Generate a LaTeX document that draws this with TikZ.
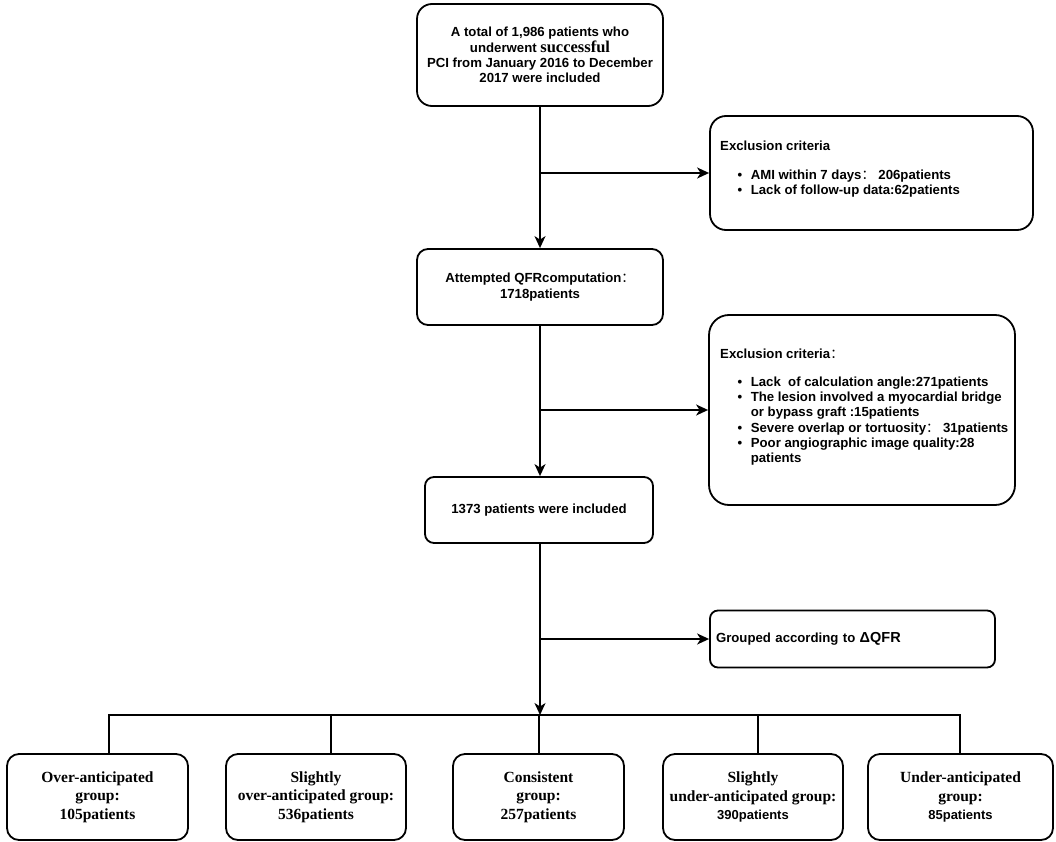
\documentclass[tikz,border=0pt]{standalone}
\usepackage{fontspec}
\setmainfont{Liberation Sans}
\newfontfamily\tnr{Liberation Serif}
\newfontfamily\cjkf{Noto Sans CJK SC}
\usetikzlibrary{arrows.meta}
\newcommand\fcol{{\cjkf\mdseries ：}}
\newcommand\sz{\fontsize{13.2}{15.3}\selectfont}
\newcommand\tsz{\fontsize{15.5}{18.5}\selectfont}
\newcommand\bul{\hspace{17.5pt}\textbullet}
\begin{document}
\begin{tikzpicture}[x=1pt,y=-1pt,
 box/.style={draw, line width=1.8pt, rounded corners=13pt, inner sep=0pt, align=center, font=\sz\bfseries},
 bbox/.style={box, minimum height=86pt, rounded corners=12pt, font=\tsz\bfseries\tnr},
 lbl/.style={anchor=base west, inner sep=0pt, font=\sz\bfseries},
 conn/.style={line width=1.8pt},
 arr/.style={conn, -{Stealth[length=12pt,width=11pt,inset=3.5pt]}},
]
\useasboundingbox (0,0) rectangle (1056,842);
\fill[white] (0,0) rectangle (1056,842);
\coordinate (mx) at (540,0);

% main column
\node[box, rounded corners=15pt, minimum width=246pt, minimum height=102pt] (n1) at (540,55)
 {A total of 1,986 patients who\\ underwent {\tnr\fontsize{16.5}{15.3}\selectfont successful}\\ PCI from January 2016 to December\\ 2017 were included};
\node[box, rounded corners=11pt, minimum width=246pt, minimum height=76pt] (n2) at (540,287)
 {Attempted QFRcomputation\fcol\\ 1718patients};
\node[box, rounded corners=9pt, minimum width=228pt, minimum height=66pt] (n3) at (539,510)
 {1373 patients were included};

% exclusion boxes
\node[box, rounded corners=16pt, minimum width=323pt, minimum height=114pt] (e1) at (871.5,173) {};
\node[lbl] (e1t) at (720,151) {\begin{tabular}[t]{@{}l@{\hspace{8.5pt}}l@{}}
 \multicolumn{2}{@{}l@{}}{Exclusion criteria}\\[12.8pt]
 \bul & AMI within 7 days\fcol\ 206patients\\
 \bul & Lack of follow-up data:62patients
 \end{tabular}};

\node[box, rounded corners=20pt, minimum width=306pt, minimum height=190pt] (e2) at (862,410) {};
\node[lbl] (e2t) at (720,358) {\begin{tabular}[t]{@{}l@{\hspace{8.5pt}}l@{}}
 \multicolumn{2}{@{}l@{}}{Exclusion criteria\fcol}\\[12.8pt]
 \bul & Lack\ \ of calculation angle:271patients\\
 \bul & The lesion involved a myocardial bridge\\
     & or bypass graft :15patients\\
 \bul & Severe overlap or tortuosity\fcol\ 31patients\\
 \bul & Poor angiographic image quality:28\\
     & patients
 \end{tabular}};

\node[box, rounded corners=8pt, minimum width=285pt, minimum height=57pt, text width=273pt, inner xsep=6pt, align=left] (grp) at (852.5,639)
 {Grouped according to {\fontsize{14.5}{15}\selectfont ΔQFR}};

% bottom groups
\node[bbox, minimum width=181pt] (g1) at (97.5,797) {Over-anticipated\\ group:\\ 105patients};
\node[bbox, minimum width=180pt] (g2) at (316,797) {Slightly\\ over-anticipated group:\\ 536patients};
\node[bbox, minimum width=171pt] (g3) at (538.5,797) {Consistent\\ group:\\ 257patients};
\node[bbox, minimum width=180pt] (g4) at (753,797) {Slightly\\ under-anticipated group:\\ {\rmfamily\fontsize{13}{18.5}\selectfont 390patients}};
\node[bbox, minimum width=185pt] (g5) at (960.5,797) {Under-anticipated\\ group:\\ {\rmfamily\fontsize{13}{18.5}\selectfont 85patients}};

% connectors
\draw[arr] (n1.south -| mx) -- (n2.north -| mx);
\draw[arr] (mx |- e1.west) -- (e1.west);
\draw[arr] (n2.south -| mx) -- (n3.north -| mx);
\draw[arr] (mx |- e2.west) -- (e2.west);
\coordinate (hb) at (540,715);
\draw[arr] (n3.south -| mx) -- (hb);
\draw[arr] (mx |- grp.west) -- (grp.west);

\coordinate (t1) at (109,715);
\coordinate (t2) at (331,715);
\coordinate (t3) at (539,715);
\coordinate (t4) at (758,715);
\coordinate (t5) at (960,715);
\draw[conn] ([xshift=-0.9pt]t1) -- ([xshift=0.9pt]t5);
\draw[conn] (t1) -- (t1 |- g1.north);
\draw[conn] (t2) -- (t2 |- g2.north);
\draw[conn] (t3) -- (t3 |- g3.north);
\draw[conn] (t4) -- (t4 |- g4.north);
\draw[conn] (t5) -- (t5 |- g5.north);
\end{tikzpicture}
\end{document}
